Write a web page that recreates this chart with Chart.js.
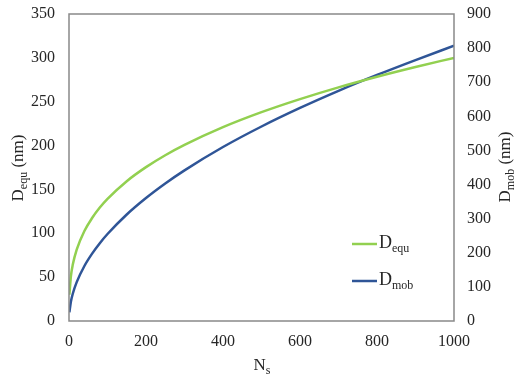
<!DOCTYPE html>
<html lang="en">
<head>
  <meta charset="UTF-8">
  <title>D_equ and D_mob vs Ns</title>
  <script src="https://cdn.jsdelivr.net/npm/chart.js"></script>
  <style>
    body { margin: 0; background: #fff; }
  </style>
</head>
<body>
  <canvas id="chart" width="516" height="383"></canvas>

  <script>
    // values
    const nsValues = [1, 5, 10, 20, 40, 60, 80, 100, 150, 200, 250, 300, 400, 500, 600, 700, 800, 900, 1000];
    const dEqu = [30, 51.3, 64.6, 81.4, 102.6, 117.4, 129.3, 139.2, 159.4, 175.4, 189.0, 200.8, 221.0, 238.1, 253.0, 266.4, 278.5, 289.6, 300];
    const dMob = [25.5, 57.0, 80.6, 114.0, 161.3, 197.5, 228.1, 255, 312.3, 360.6, 403.2, 441.7, 510, 570.2, 624.6, 674.7, 721.3, 765, 807];

    const FONT = '"Liberation Serif", "Times New Roman", serif';
    const GREEN = '#92d050';
    const BLUE = '#2f5597';
    const TEXT = '#262626';

    // draws text with a subscript part, e.g. D + equ + " (nm)"
    function subText(ctx, x, y, base, sub, tail, size, align) {
      ctx.textBaseline = 'middle';
      ctx.textAlign = 'left';
      const small = Math.round(size * 0.68);
      ctx.font = size + 'px ' + FONT;
      const w1 = ctx.measureText(base).width;
      const w3 = ctx.measureText(tail).width;
      ctx.font = small + 'px ' + FONT;
      const w2 = ctx.measureText(sub).width;
      let start = x;
      if (align === 'center') start = x - (w1 + w2 + w3) / 2;
      ctx.font = size + 'px ' + FONT;
      ctx.fillText(base, start, y);
      ctx.font = small + 'px ' + FONT;
      ctx.fillText(sub, start + w1, y + size * 0.3);
      ctx.font = size + 'px ' + FONT;
      ctx.fillText(tail, start + w1 + w2, y);
    }

    const extras = {
      id: 'extras',
      afterDraw(chart) {
        const ctx = chart.ctx;
        const a = chart.chartArea;
        ctx.save();
        // frame round the plot
        ctx.strokeStyle = '#898989';
        ctx.lineWidth = 1.5;
        ctx.strokeRect(a.left, a.top, a.right - a.left, a.bottom - a.top);

        ctx.fillStyle = TEXT;
        // x title
        subText(ctx, 262, 366, 'N', 's', '', 17, 'center');

        // left title
        ctx.save();
        ctx.translate(19, 168);
        ctx.rotate(-Math.PI / 2);
        subText(ctx, 0, 0, 'D', 'equ', ' (nm)', 17, 'center');
        ctx.restore();

        // right title
        ctx.save();
        ctx.translate(506, 167);
        ctx.rotate(-Math.PI / 2);
        subText(ctx, 0, 0, 'D', 'mob', ' (nm)', 17, 'center');
        ctx.restore();

        // legend
        ctx.lineWidth = 2.5;
        ctx.strokeStyle = GREEN;
        ctx.beginPath(); ctx.moveTo(352, 244); ctx.lineTo(377, 244); ctx.stroke();
        ctx.strokeStyle = BLUE;
        ctx.beginPath(); ctx.moveTo(352, 281); ctx.lineTo(377, 281); ctx.stroke();
        subText(ctx, 379, 243, 'D', 'equ', '', 18, 'left');
        subText(ctx, 379, 280, 'D', 'mob', '', 18, 'left');
        ctx.restore();
      }
    };

    const tickFont = { family: FONT, size: 16 };
    const plain = v => String(v);

    // fixed axis sizes so the plot box sits where it does in the picture
    function fitY(width) {
      return s => { s.width = width; s.paddingTop = 0; s.paddingBottom = 0; };
    }

    new Chart(document.getElementById('chart'), {
      type: 'line',
      data: {
        datasets: [
          {
            label: 'Dequ',
            data: nsValues.map((n, i) => ({ x: n, y: dEqu[i] })),
            borderColor: GREEN,
            borderWidth: 2.5,
            pointRadius: 0,
            cubicInterpolationMode: 'monotone',
            yAxisID: 'y'
          },
          {
            label: 'Dmob',
            data: nsValues.map((n, i) => ({ x: n, y: dMob[i] })),
            borderColor: BLUE,
            borderWidth: 2.5,
            pointRadius: 0,
            cubicInterpolationMode: 'monotone',
            yAxisID: 'y1'
          }
        ]
      },
      options: {
        responsive: false,
        animation: false,
        layout: { padding: { top: 14, left: 0, right: 0, bottom: 0 } },
        plugins: { legend: { display: false }, tooltip: { enabled: false } },
        scales: {
          x: {
            type: 'linear',
            min: 0, max: 1000,
            ticks: { stepSize: 200, font: tickFont, color: TEXT, padding: 11, maxRotation: 0, callback: plain },
            grid: { display: false, drawTicks: false },
            border: { display: false },
            afterFit(s) { s.height = 62; s.paddingLeft = 0; s.paddingRight = 0; }
          },
          y: {
            position: 'left',
            min: 0, max: 350,
            ticks: { stepSize: 50, font: tickFont, color: TEXT, padding: 14, callback: plain },
            grid: { display: false, drawTicks: false },
            border: { display: false },
            afterFit: fitY(69)
          },
          y1: {
            position: 'right',
            min: 0, max: 900,
            ticks: { stepSize: 100, font: tickFont, color: TEXT, padding: 13, callback: plain },
            grid: { display: false, drawTicks: false },
            border: { display: false },
            afterFit: fitY(62)
          }
        }
      },
      plugins: [extras]
    });
  </script>
</body>
</html>
